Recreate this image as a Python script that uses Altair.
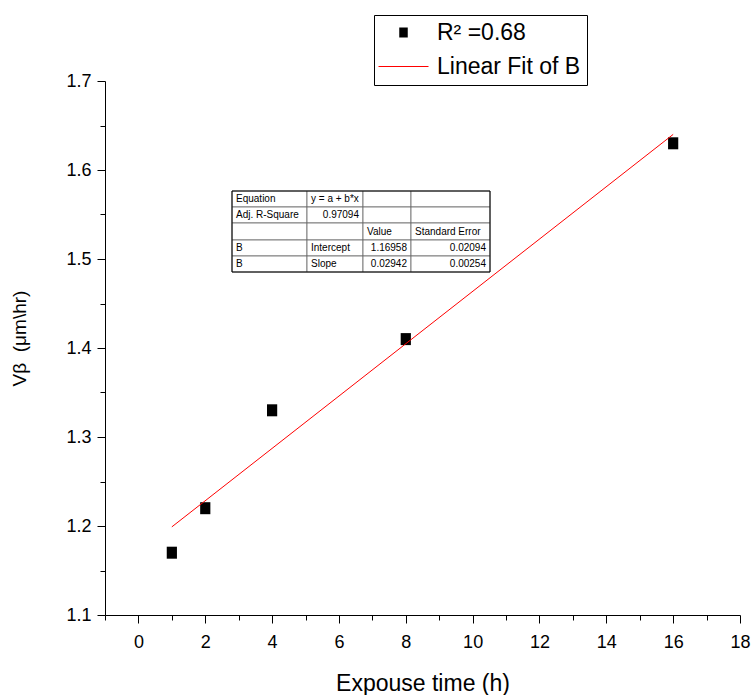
import altair as alt
import pandas as pd

# ---------------- data ----------------
time_h = [1, 2, 4, 8, 16]
v_beta = [1.17, 1.22, 1.33, 1.41, 1.63]
fit_x = [1, 16]
fit_y = [1.199, 1.640]
legend_labels = ["R\u00b2 =0.68", "Linear Fit of B"]

x_major = [0, 2, 4, 6, 8, 10, 12, 14, 16, 18]
x_minor = [-1, 1, 3, 5, 7, 9, 11, 13, 15, 17]
y_major = [1.1, 1.2, 1.3, 1.4, 1.5, 1.6, 1.7]
y_minor = [1.15, 1.25, 1.35, 1.45, 1.55, 1.65]

table_rows = [
    ["Equation", "y = a + b*x", "", ""],
    ["Adj. R-Square", "0.97094", "", ""],
    ["", "", "Value", "Standard Error"],
    ["B", "Intercept", "1.16958", "0.02094"],
    ["B", "Slope", "0.02942", "0.00254"],
]
# alignment of each cell: L = left, R = right
table_align = [
    ["L", "L", "L", "L"],
    ["L", "R", "L", "L"],
    ["L", "L", "L", "L"],
    ["L", "L", "R", "R"],
    ["L", "L", "R", "R"],
]

# ---------------- layout / style ----------------
FONT = "Liberation Sans"
W, H = 635, 534
PAD = {"left": 105, "top": 81, "right": 12, "bottom": 80}
col_edges = [127, 202, 258, 306, 385]   # table columns (px, plot coords)
row_edges = [110, 126, 142, 159, 175, 191]
TXT_PAD = 4

xscale = alt.Scale(domain=[-1, 18], nice=False, zero=False)
yscale = alt.Scale(domain=[1.1, 1.7], nice=False, zero=False)

pts_df = pd.DataFrame({"t": time_h, "v": v_beta, "series": legend_labels[0]})
fit_df = pd.DataFrame({"t": fit_x, "v": fit_y})

square_path = "M-0.85,-1H0.85V1H-0.85Z"
line_path = "M-5,-0.1H5V0.1H-5Z"

leg = alt.Legend(
    title=None, orient="none", legendX=269, legendY=-66,
    strokeColor="black", fillColor="white", padding=6,
    labelFont=FONT, labelFontSize=23, labelColor="black",
    symbolSize=100, symbolStrokeWidth=0, symbolOffset=12, labelOffset=22, rowPadding=10,
)

major_x_axis = alt.Axis(
    values=x_major, title="Expouse time (h)", orient="bottom",
    grid=False, tickSize=8, tickColor="black", domainColor="black",
    labelFont=FONT, labelFontSize=18, labelColor="black", labelPadding=10,
    titleFont=FONT, titleFontSize=23, titleFontWeight="normal", titleColor="black",
    titlePadding=21, labelFlush=False,
)
minor_x_axis = alt.Axis(
    values=x_minor, title=None, orient="bottom", grid=False, labels=False,
    domain=False, tickSize=5, tickColor="black",
)
major_y_axis = alt.Axis(
    values=y_major, format=".1f", title="V\u03b2\u00a0\u00a0(\u03bcm\\hr)", orient="left",
    grid=False, tickSize=8, tickColor="black", domainColor="black",
    labelFont=FONT, labelFontSize=18, labelColor="black", labelPadding=6,
    titleFont=FONT, titleFontSize=19, titleFontWeight="normal", titleColor="black",
    titleX=-86, titleY=257, titleAngle=-90, titleBaseline="middle", labelFlush=False,
)
minor_y_axis = alt.Axis(
    values=y_minor, title=None, orient="left", grid=False, labels=False,
    domain=False, tickSize=5, tickColor="black",
)

points = alt.Chart(pts_df).mark_point(filled=True, size=144, opacity=1, strokeWidth=0).encode(
    x=alt.X("t:Q", scale=xscale, axis=major_x_axis),
    y=alt.Y("v:Q", scale=yscale, axis=major_y_axis),
    shape=alt.Shape("series:N", scale=alt.Scale(domain=legend_labels, range=[square_path, line_path]), legend=leg),
    fill=alt.Fill("series:N", scale=alt.Scale(domain=legend_labels, range=["black", "red"]), legend=leg),
)

fit = alt.Chart(fit_df).mark_line(color="red", strokeWidth=1).encode(
    x=alt.X("t:Q", scale=xscale, axis=minor_x_axis),
    y=alt.Y("v:Q", scale=yscale, axis=minor_y_axis),
)

# table cells
cells = []
for r, row in enumerate(table_rows):
    for c, txt in enumerate(row):
        al = table_align[r][c]
        cells.append({
            "x0": col_edges[c], "x1": col_edges[c + 1],
            "y0": row_edges[r], "y1": row_edges[r + 1],
            "tx": col_edges[c] + TXT_PAD if al == "L" else col_edges[c + 1] - TXT_PAD,
            "ty": (row_edges[r] + row_edges[r + 1]) / 2,
            "txt": txt, "al": al,
        })
cells_df = pd.DataFrame(cells)

cell_rects = alt.Chart(cells_df).mark_rect(fill="white", stroke="#666666", strokeWidth=0.8).encode(
    x=alt.X("x0:Q", scale=None, axis=None), x2="x1:Q",
    y=alt.Y("y0:Q", scale=None, axis=None), y2="y1:Q",
)
frame_df = pd.DataFrame({"x0": [col_edges[0]], "x1": [col_edges[-1]], "y0": [row_edges[0]], "y1": [row_edges[-1]]})
frame = alt.Chart(frame_df).mark_rect(fill=None, stroke="black", strokeWidth=1).encode(
    x=alt.X("x0:Q", scale=None, axis=None), x2="x1:Q",
    y=alt.Y("y0:Q", scale=None, axis=None), y2="y1:Q",
)
text_l = alt.Chart(cells_df).transform_filter(alt.datum.al == "L").mark_text(
    align="left", baseline="middle", font=FONT, fontSize=10, color="black"
).encode(
    x=alt.X("tx:Q", scale=None, axis=None), y=alt.Y("ty:Q", scale=None, axis=None), text="txt:N"
)
text_r = alt.Chart(cells_df).transform_filter(alt.datum.al == "R").mark_text(
    align="right", baseline="middle", font=FONT, fontSize=10, color="black"
).encode(
    x=alt.X("tx:Q", scale=None, axis=None), y=alt.Y("ty:Q", scale=None, axis=None), text="txt:N"
)

chart = alt.layer(points, fit, cell_rects, frame, text_l, text_r).resolve_axis(
    x="independent", y="independent"
).properties(
    width=W, height=H, padding=PAD,
    autosize=alt.AutoSizeParams(type="none"),
    background="white",
).configure_view(stroke=None)

chart.save("out.html", embed_options={"renderer": "svg", "actions": False})
